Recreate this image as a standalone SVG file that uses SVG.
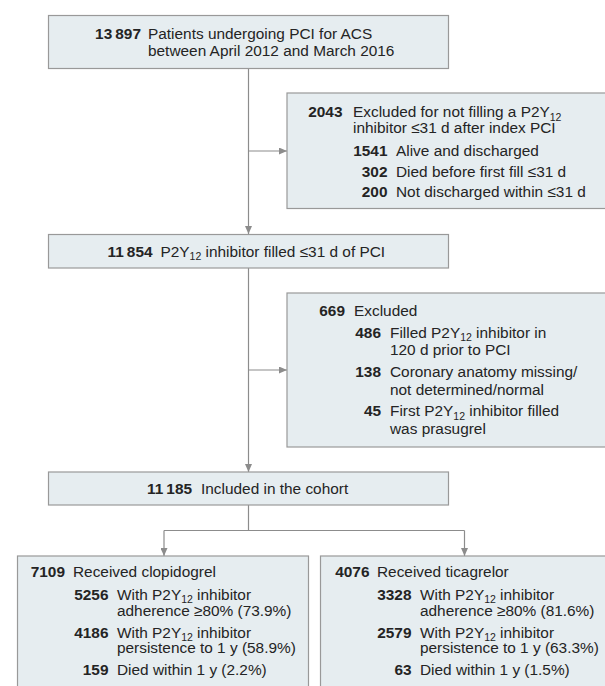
<svg xmlns="http://www.w3.org/2000/svg" width="605" height="686" viewBox="0 0 605 686">
<style>
.box{fill:#e6edf0;stroke:#999999;stroke-width:1.2}
.t{font-family:"Liberation Sans",Arial,sans-serif;font-size:15.4px;fill:#242424}
.n{font-weight:bold;text-anchor:end}
.s{font-size:10.5px}
.conn{stroke:#8c8c8c;stroke-width:1.2;fill:none}
</style>
<defs>
<marker id="ah" markerUnits="userSpaceOnUse" markerWidth="8" markerHeight="7" refX="8" refY="3.5" orient="auto">
<path d="M0,0 L8,3.5 L0,7 z" fill="#8c8c8c"/>
</marker>
</defs>
<rect width="605" height="686" fill="#ffffff"/>
<g id="connectors">
<path class="conn" d="M248.5,68 V234" marker-end="url(#ah)"/>
<path class="conn" d="M248.5,151 H287" marker-end="url(#ah)"/>
<path class="conn" d="M248.5,268 V472" marker-end="url(#ah)"/>
<path class="conn" d="M248.5,370 H287" marker-end="url(#ah)"/>
<path class="conn" d="M248.5,505 V530.5 M164,530.5 H464.5"/>
<path class="conn" d="M164,530.5 V556" marker-end="url(#ah)"/>
<path class="conn" d="M464.5,530.5 V556" marker-end="url(#ah)"/>
</g>
<g id="n1">
<rect class="box" x="48.5" y="15.5" width="400" height="53"/>
<text class="t n" x="141" y="39">13&#8201;897</text>
<text class="t" x="148" y="39">Patients undergoing PCI for ACS</text>
<text class="t" x="148" y="56">between April 2012 and March 2016</text>
</g>
<g id="n2">
<rect class="box" x="287" y="93" width="330" height="115.5"/>
<text class="t n" x="342.5" y="117">2043</text>
<text class="t" x="353" y="117">Excluded for not filling a P2Y<tspan class="s" dy="3.5">12</tspan></text>
<text class="t" x="353" y="133">inhibitor ≤31 d after index PCI</text>
<text class="t n" x="387.5" y="155.5">1541</text>
<text class="t" x="396" y="155.5">Alive and discharged</text>
<text class="t n" x="387.5" y="176.5">302</text>
<text class="t" x="396" y="176.5">Died before first fill ≤31 d</text>
<text class="t n" x="387.5" y="197">200</text>
<text class="t" x="396" y="197">Not discharged within ≤31 d</text>
</g>
<g id="n3">
<rect class="box" x="48.5" y="234.5" width="400" height="33.5"/>
<text class="t n" x="152.5" y="256.5">11&#8201;854</text>
<text class="t" x="160.5" y="256.5">P2Y<tspan class="s" dy="3.5">12</tspan><tspan dy="-3.5"> inhibitor filled ≤31 d of PCI</tspan></text>
</g>
<g id="n4">
<rect class="box" x="287" y="293" width="330" height="154"/>
<text class="t n" x="345" y="316">669</text>
<text class="t" x="354" y="316">Excluded</text>
<text class="t n" x="381" y="337.5">486</text>
<text class="t" x="390" y="337.5">Filled P2Y<tspan class="s" dy="3.5">12</tspan><tspan dy="-3.5"> inhibitor in</tspan></text>
<text class="t" x="390" y="355">120 d prior to PCI</text>
<text class="t n" x="381" y="376.5">138</text>
<text class="t" x="390" y="376.5">Coronary anatomy missing/</text>
<text class="t" x="390" y="394.5">not determined/normal</text>
<text class="t n" x="381" y="416">45</text>
<text class="t" x="390" y="416">First P2Y<tspan class="s" dy="3.5">12</tspan><tspan dy="-3.5"> inhibitor filled</tspan></text>
<text class="t" x="390" y="434">was prasugrel</text>
</g>
<g id="n5">
<rect class="box" x="48.5" y="472" width="400" height="33"/>
<text class="t n" x="192" y="494">11&#8201;185</text>
<text class="t" x="201" y="494">Included in the cohort</text>
</g>
<g id="n6">
<rect class="box" x="17.5" y="556" width="291" height="145"/>
<text class="t n" x="65" y="577">7109</text>
<text class="t" x="73" y="577">Received clopidogrel</text>
<text class="t n" x="108.5" y="599.5">5256</text>
<text class="t" x="117" y="599.5">With P2Y<tspan class="s" dy="3.5">12</tspan><tspan dy="-3.5"> inhibitor</tspan></text>
<text class="t" x="117" y="615.5">adherence ≥80% (73.9%)</text>
<text class="t n" x="108.5" y="637.5">4186</text>
<text class="t" x="117" y="637.5">With P2Y<tspan class="s" dy="3.5">12</tspan><tspan dy="-3.5"> inhibitor</tspan></text>
<text class="t" x="117" y="653">persistence to 1 y (58.9%)</text>
<text class="t n" x="108.5" y="675">159</text>
<text class="t" x="117" y="675">Died within 1 y (2.2%)</text>
</g>
<g id="n7">
<rect class="box" x="320.5" y="556" width="300" height="145"/>
<text class="t n" x="369.5" y="577">4076</text>
<text class="t" x="377" y="577">Received ticagrelor</text>
<text class="t n" x="411.5" y="599.5">3328</text>
<text class="t" x="420" y="599.5">With P2Y<tspan class="s" dy="3.5">12</tspan><tspan dy="-3.5"> inhibitor</tspan></text>
<text class="t" x="420" y="615.5">adherence ≥80% (81.6%)</text>
<text class="t n" x="411.5" y="637.5">2579</text>
<text class="t" x="420" y="637.5">With P2Y<tspan class="s" dy="3.5">12</tspan><tspan dy="-3.5"> inhibitor</tspan></text>
<text class="t" x="420" y="653">persistence to 1 y (63.3%)</text>
<text class="t n" x="411.5" y="675">63</text>
<text class="t" x="420" y="675">Died within 1 y (1.5%)</text>
</g>
</svg>
